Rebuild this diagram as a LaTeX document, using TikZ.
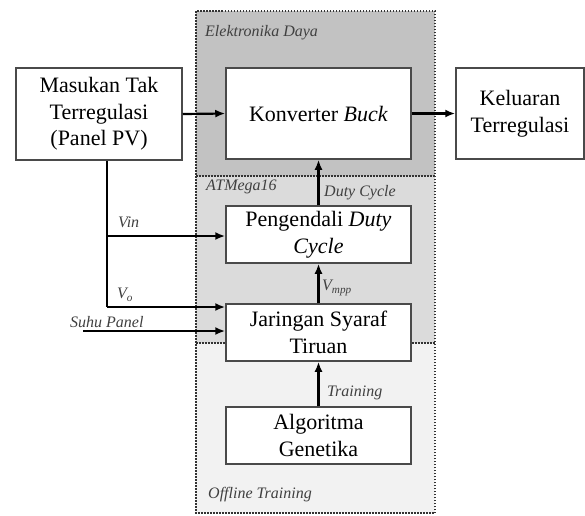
\documentclass[tikz,border=0pt]{standalone}
\usepackage{fontspec}
\setmainfont{Liberation Serif}
\usetikzlibrary{arrows.meta}
\definecolor{regA}{HTML}{C2C2C2}
\definecolor{regB}{HTML}{DBDBDB}
\definecolor{regC}{HTML}{F2F2F2}
\definecolor{lbl}{HTML}{404040}
\definecolor{bord}{HTML}{4A4A4A}
\tikzset{
  blk/.style={draw=bord, line width=1.5pt, fill=white, align=center, inner sep=0pt,
    font=\fontsize{22}{26.5}\selectfont},
  region/.style={draw=black!80, line width=1.5pt, dash pattern=on 1.5pt off 1.5pt},
  conn/.style={line width=2.2pt, -{Latex[length=10pt,width=8pt]}},
  plain/.style={line width=2.2pt},
  lab/.style={text=lbl, font=\fontsize{16}{18}\selectfont\itshape, inner sep=0pt}
}
\begin{document}
\begin{tikzpicture}[x=1pt,y=-1pt]
\useasboundingbox (0,0) rectangle (585,515);
% regions
\fill[regA] (196,11) rectangle (435,176);
\fill[regB] (196,176) rectangle (435,343);
\fill[regC] (196,343) rectangle (435,513);
\draw[region] (196,11) rectangle (435,513);
\draw[region] (196,176) -- (435,176);
\draw[region] (196,343) -- (435,343);
\node[lab, anchor=west] (tED) at (205,33) {Elektronika Daya};
\node[lab, anchor=west] (tAT) at (206,187) {ATMega16};
\node[lab, anchor=west] (tOT) at (208,495) {Offline Training};
% blocks
\node[blk, minimum width=166pt, minimum height=92pt] (mas) at (99,114) {Masukan Tak\\Terregulasi\\(Panel PV)};
\node[blk, minimum width=185pt, minimum height=91pt] (kon) at (318.5,113.5) {Konverter \textit{Buck}};
\node[blk, minimum width=128pt, minimum height=91pt] (kel) at (520,113.5) {Keluaran\\Terregulasi};
\node[blk, minimum width=185pt, minimum height=57pt] (pen) at (318.5,234.5) {Pengendali \textit{Duty}\\\textit{Cycle}};
\node[blk, minimum width=185pt, minimum height=57pt] (jar) at (318.5,332.5) {Jaringan Syaraf\\Tiruan};
\node[blk, minimum width=185pt, minimum height=57pt] (alg) at (318.5,435.5) {Algoritma\\Genetika};
% connectors
\draw[conn] (mas.east) -- (kon.west);
\draw[conn] (kon.east) -- (kel.west);
\coordinate (brA) at (107,236);
\coordinate (brB) at (107,307);
\coordinate (suhu) at (83,331);
\draw[plain] (mas.south -| brA) -- (brB);
\draw[conn] (brA) -- (brA -| pen.west);
\draw[conn] (brB) -- (brB -| jar.west);
\draw[conn] (suhu) -- (suhu -| jar.west);
\draw[conn] (pen.north) -- (kon.south);
\draw[conn] (jar.north) -- (pen.south);
\draw[conn] (alg.north) -- (jar.south);
% labels
\node[lab, anchor=west] (lVin) at (118,222) {Vin};
\node[lab, anchor=west] (lVo) at (117,295) {V\textsubscript{o}};
\node[lab, anchor=west] (lSu) at (70,322) {Suhu Panel};
\node[lab, anchor=west] (lDC) at (324,193) {Duty Cycle};
\node[lab, anchor=west] (lVm) at (322,288) {V\textsubscript{mpp}};
\node[lab, anchor=west] (lTr) at (327,393) {Training};
\end{tikzpicture}
\end{document}
